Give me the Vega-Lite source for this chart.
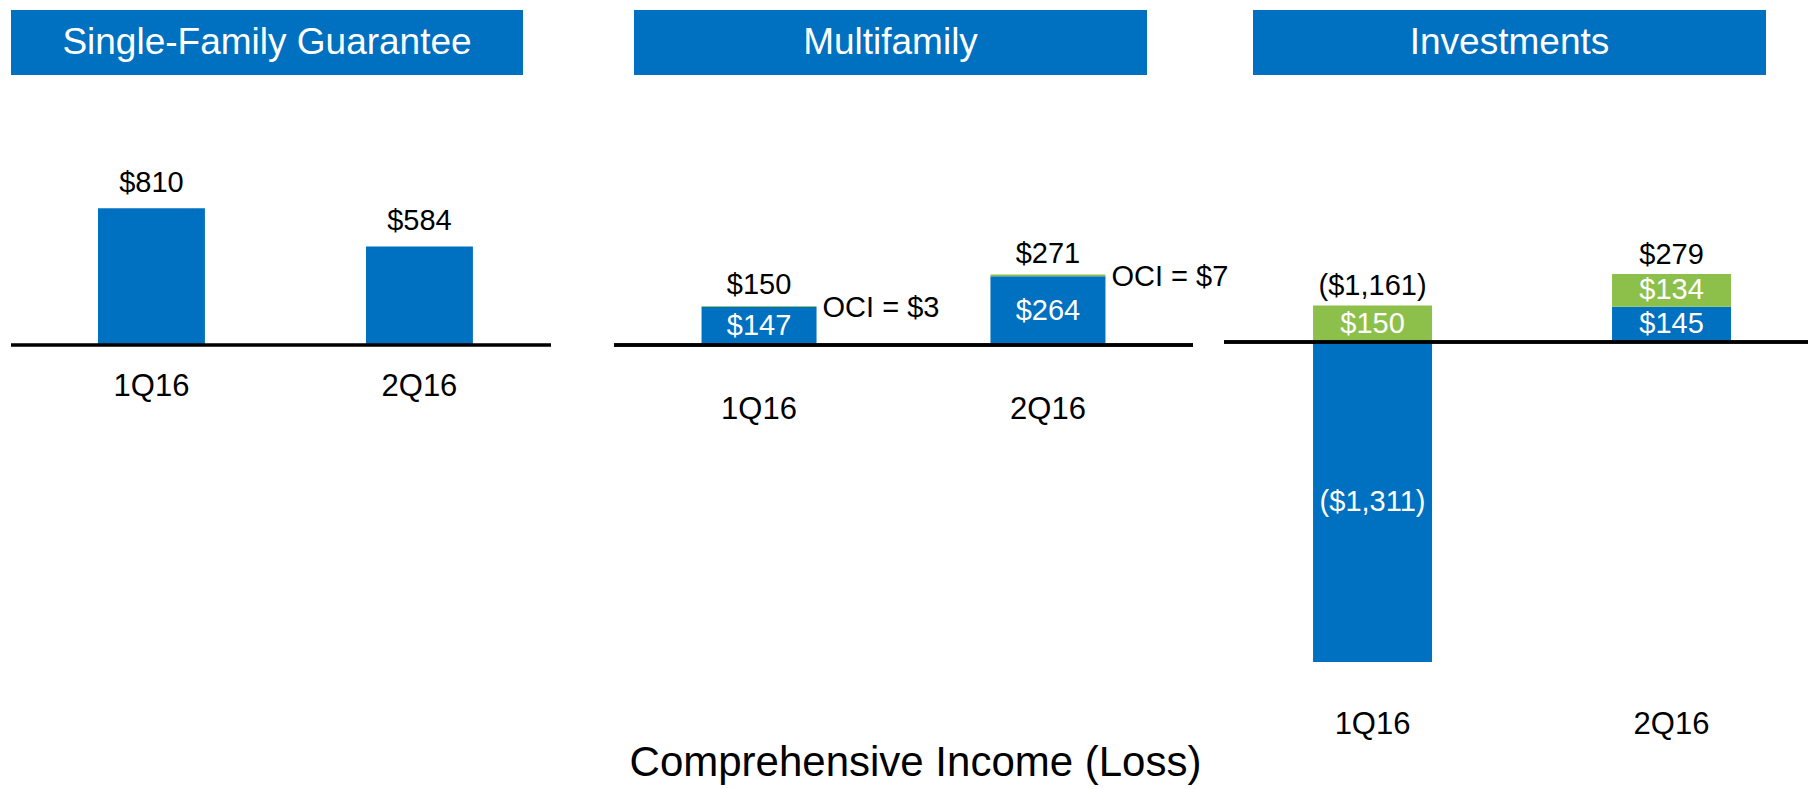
{
  "$schema": "https://vega.github.io/schema/vega-lite/v6.json",
  "background": "white",
  "padding": {"left": 9, "top": 10, "right": 0, "bottom": 2},
  "datasets": {
    "sf": [
      {"quarter": "1Q16", "component": "Net income", "value": 810},
      {"quarter": "2Q16", "component": "Net income", "value": 584}
    ],
    "mf": [
      {"quarter": "1Q16", "component": "Net income", "value": 147},
      {"quarter": "1Q16", "component": "OCI", "value": 3},
      {"quarter": "2Q16", "component": "Net income", "value": 264},
      {"quarter": "2Q16", "component": "OCI", "value": 7}
    ],
    "inv": [
      {"quarter": "1Q16", "component": "Net income", "value": -1311},
      {"quarter": "1Q16", "component": "OCI", "value": 150},
      {"quarter": "2Q16", "component": "Net income", "value": 145},
      {"quarter": "2Q16", "component": "OCI", "value": 134}
    ]
  },
  "title": {
    "text": "Comprehensive Income (Loss)",
    "orient": "bottom",
    "anchor": "middle",
    "fontSize": 42,
    "fontWeight": "normal",
    "color": "black",
    "font": "Liberation Sans",
    "offset": 4,
    "dx": 5
  },
  "vconcat": [
    {
      "bounds": "flush",
      "spacing": 111,
      "hconcat": [
        {
          "width": 512, "height": 65,
          "view": {"fill": "#0070C0", "stroke": null},
          "data": {"values": [{"segment": "Single-Family Guarantee"}]},
          "mark": {"type": "text", "color": "white", "fontSize": 37, "baseline": "middle", "align": "center", "font": "Liberation Sans"},
          "encoding": {"text": {"field": "segment", "type": "nominal"}}
        },
        {
          "bounds": "flush",
          "spacing": 106,
          "hconcat": [
            {
              "width": 513, "height": 65,
              "view": {"fill": "#0070C0", "stroke": null},
              "data": {"values": [{"segment": "Multifamily"}]},
              "mark": {"type": "text", "color": "white", "fontSize": 37, "baseline": "middle", "align": "center", "font": "Liberation Sans"},
              "encoding": {"text": {"field": "segment", "type": "nominal"}}
            },
            {
              "width": 513, "height": 65,
              "view": {"fill": "#0070C0", "stroke": null},
              "data": {"values": [{"segment": "Investments"}]},
              "mark": {"type": "text", "color": "white", "fontSize": 37, "baseline": "middle", "align": "center", "font": "Liberation Sans"},
              "encoding": {"text": {"field": "segment", "type": "nominal"}}
            }
          ]
        }
      ]
    },
    {
      "bounds": "flush",
      "spacing": 63,
      "hconcat": [
        {
          "width": 540, "height": 245,
          "data": {"name": "sf"},
          "layer": [
            {
              "mark": {"type": "bar", "color": "#0070C0"},
              "encoding": {
                "x": {"field": "quarter", "type": "nominal", "title": null,
                      "scale": {"paddingInner": 0.601, "paddingOuter": 0.308, "align": 0.527},
                      "axis": {"domain": false, "ticks": false, "labelAngle": 0, "labelFontSize": 31, "labelColor": "black", "labelBaseline": "middle", "labelPadding": 41, "labelFont": "Liberation Sans"}},
                "y": {"field": "value", "type": "quantitative", "axis": null, "scale": {"domain": [0, 1451], "nice": false, "zero": false}},
                "color": {"field": "component", "type": "nominal", "legend": null, "scale": {"domain": ["Net income", "OCI"], "range": ["#0070C0", "#8DC04B"]}},
                "order": {"field": "component", "type": "nominal", "sort": "ascending"}
              }
            },
            {
              "mark": {"type": "rule", "color": "black", "strokeWidth": 3},
              "encoding": {"y": {"datum": 0, "type": "quantitative", "axis": null}}
            },
            {
              "transform": [{"stack": "value", "groupby": ["quarter"], "sort": [{"field": "component"}], "as": ["v0", "v1"]}],
              "mark": {"type": "text", "fontSize": 29, "baseline": "alphabetic", "dy": -16, "color": "black", "font": "Liberation Sans"},
              "encoding": {
                "x": {"field": "quarter", "type": "nominal", "title": null},
                "y": {"aggregate": "max", "field": "v1", "type": "quantitative", "axis": null, "stack": null},
                "text": {"aggregate": "sum", "field": "value", "type": "quantitative", "format": "($,d"}
              }
            }
          ]
        },
        {
          "bounds": "flush",
          "spacing": 31,
          "hconcat": [
            {
              "width": 579, "height": 245,
              "data": {"name": "mf"},
              "layer": [
                {
                  "mark": {"type": "bar"},
                  "encoding": {
                    "x": {"field": "quarter", "type": "nominal", "title": null,
                          "scale": {"paddingInner": 0.602, "paddingOuter": 0.303, "align": 0.5},
                          "axis": {"domain": false, "ticks": false, "labelAngle": 0, "labelFontSize": 31, "labelColor": "black", "labelBaseline": "middle", "labelPadding": 64, "labelFont": "Liberation Sans"}},
                    "y": {"field": "value", "type": "quantitative", "axis": null, "scale": {"domain": [0, 942], "nice": false, "zero": false}},
                    "color": {"field": "component", "type": "nominal", "legend": null, "scale": {"domain": ["Net income", "OCI"], "range": ["#0070C0", "#8DC04B"]}},
                    "order": {"field": "component", "type": "nominal", "sort": "ascending"}
                  }
                },
                {
                  "mark": {"type": "rule", "color": "black", "strokeWidth": 3},
                  "encoding": {"y": {"datum": 0, "type": "quantitative", "axis": null}}
                },
                {
                  "transform": [{"stack": "value", "groupby": ["quarter"], "sort": [{"field": "component"}], "as": ["v0", "v1"]}],
                  "mark": {"type": "text", "fontSize": 29, "baseline": "alphabetic", "dy": -12, "color": "black", "font": "Liberation Sans"},
                  "encoding": {
                    "x": {"field": "quarter", "type": "nominal", "title": null},
                    "y": {"aggregate": "max", "field": "v1", "type": "quantitative", "axis": null, "stack": null},
                    "text": {"aggregate": "sum", "field": "value", "type": "quantitative", "format": "($,d"}
                  }
                },
                {
                  "transform": [
                    {"stack": "value", "groupby": ["quarter"], "sort": [{"field": "component"}], "as": ["v0", "v1"]},
                    {"filter": "datum.component === 'Net income'"},
                    {"fold": ["v0", "v1"], "as": ["edge", "pos"]}
                  ],
                  "mark": {"type": "text", "fontSize": 29, "baseline": "middle", "color": "white", "font": "Liberation Sans"},
                  "encoding": {
                    "x": {"field": "quarter", "type": "nominal", "title": null},
                    "y": {"aggregate": "mean", "field": "pos", "type": "quantitative", "axis": null, "stack": null},
                    "text": {"field": "value", "type": "quantitative", "format": "($,d"}
                  }
                },
                {
                  "transform": [
                    {"stack": "value", "groupby": ["quarter"], "sort": [{"field": "component"}], "as": ["v0", "v1"]},
                    {"filter": "datum.component === 'OCI'"}
                  ],
                  "mark": {"type": "text", "fontSize": 29, "baseline": "middle", "align": "left", "dx": 63.5, "dy": 2, "color": "black", "font": "Liberation Sans",
                           "text": {"expr": "'OCI = ' + format(datum.value, '$,d')"}},
                  "encoding": {
                    "x": {"field": "quarter", "type": "nominal", "title": null},
                    "y": {"field": "v1", "type": "quantitative", "axis": null, "stack": null}
                  }
                }
              ]
            },
            {
              "width": 586, "height": 590,
              "data": {"name": "inv"},
              "layer": [
                {
                  "mark": {"type": "bar"},
                  "encoding": {
                    "x": {"field": "quarter", "type": "nominal", "title": null,
                          "scale": {"paddingInner": 0.602, "paddingOuter": 0.281, "align": 0.53},
                          "axis": {"domain": false, "ticks": false, "labelAngle": 0, "labelFontSize": 31, "labelColor": "black", "labelBaseline": "middle", "labelPadding": 34, "labelFont": "Liberation Sans"}},
                    "y": {"field": "value", "type": "quantitative", "axis": null, "scale": {"domain": [-1426, 992], "nice": false, "zero": false}},
                    "color": {"field": "component", "type": "nominal", "legend": null, "scale": {"domain": ["Net income", "OCI"], "range": ["#0070C0", "#8DC04B"]}},
                    "order": {"field": "component", "type": "nominal", "sort": "ascending"}
                  }
                },
                {
                  "mark": {"type": "rule", "color": "black", "strokeWidth": 3},
                  "encoding": {"y": {"datum": 0, "type": "quantitative", "axis": null}}
                },
                {
                  "transform": [{"stack": "value", "groupby": ["quarter"], "sort": [{"field": "component"}], "as": ["v0", "v1"]}],
                  "mark": {"type": "text", "fontSize": 29, "baseline": "alphabetic", "dy": -10, "color": "black", "font": "Liberation Sans"},
                  "encoding": {
                    "x": {"field": "quarter", "type": "nominal", "title": null},
                    "y": {"aggregate": "max", "field": "v1", "type": "quantitative", "axis": null, "stack": null},
                    "text": {"aggregate": "sum", "field": "value", "type": "quantitative", "format": "($,d"}
                  }
                },
                {
                  "transform": [
                    {"stack": "value", "groupby": ["quarter"], "sort": [{"field": "component"}], "as": ["v0", "v1"]},
                    {"fold": ["v0", "v1"], "as": ["edge", "pos"]}
                  ],
                  "mark": {"type": "text", "fontSize": 29, "baseline": "middle", "color": "white", "font": "Liberation Sans"},
                  "encoding": {
                    "x": {"field": "quarter", "type": "nominal", "title": null},
                    "y": {"aggregate": "mean", "field": "pos", "type": "quantitative", "axis": null, "stack": null},
                    "text": {"field": "value", "type": "quantitative", "format": "($,d"}
                  }
                }
              ]
            }
          ]
        }
      ]
    }
  ],
  "spacing": 25,
  "bounds": "full",
  "config": {
    "view": {"stroke": null},
    "font": "Liberation Sans",
    "bar": {"stroke": null}
  }
}
